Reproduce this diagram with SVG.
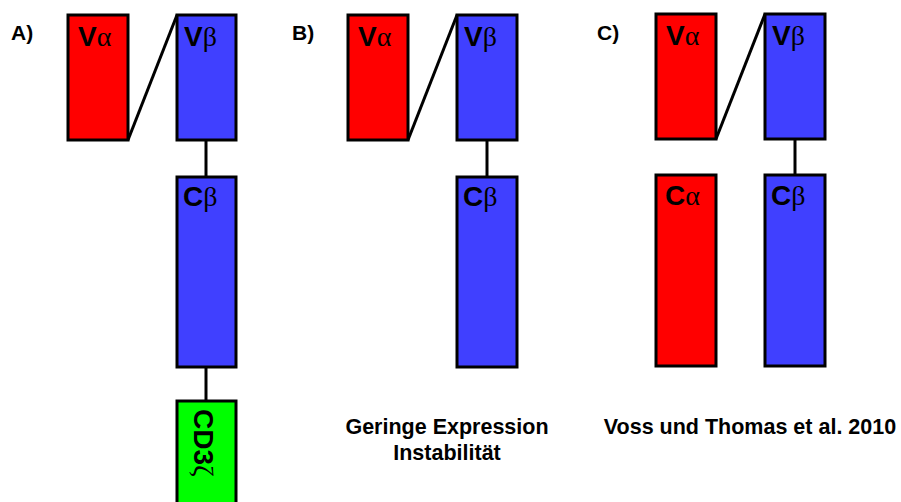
<svg xmlns="http://www.w3.org/2000/svg" width="901" height="502" viewBox="0 0 901 502">
<style>
.red{fill:#ff0000;stroke:#000;stroke-width:3}
.blue{fill:#4040ff;stroke:#000;stroke-width:3}
.green{fill:#00ff00;stroke:#000;stroke-width:3}
.lbl{font-family:"Liberation Sans",Arial,sans-serif;font-weight:bold;font-size:28px;fill:#000}
.gr{font-family:"Liberation Serif","Times New Roman",serif;font-weight:normal}
.pl{font-family:"Liberation Sans",Arial,sans-serif;font-weight:bold;font-size:21px;fill:#000}
.cap{font-family:"Liberation Sans",Arial,sans-serif;font-weight:bold;font-size:21.5px;fill:#000;text-anchor:middle}
.conn{stroke:#000;stroke-width:3;fill:none}
</style>
<rect width="901" height="502" fill="#fff"/>
<g id="panel-labels">
<text class="pl" x="11" y="40">A)</text>
<text class="pl" x="292" y="40">B)</text>
<text class="pl" x="597" y="40">C)</text>
</g>
<g id="connectors">
<line class="conn" x1="128" y1="140" x2="177" y2="15"/>
<line class="conn" x1="206" y1="140" x2="206" y2="177"/>
<line class="conn" x1="206" y1="367" x2="206" y2="401"/>
<line class="conn" x1="408" y1="140" x2="457" y2="15"/>
<line class="conn" x1="487" y1="140" x2="487" y2="177"/>
<line class="conn" x1="716" y1="139" x2="765" y2="14"/>
<line class="conn" x1="795" y1="139" x2="795" y2="175"/>
</g>
<g id="A-Va"><rect class="red" x="68" y="15" width="60" height="125"/><text class="lbl" x="78" y="46">V<tspan class="gr">α</tspan></text></g>
<g id="A-Vb"><rect class="blue" x="177" y="15" width="59" height="125"/><text class="lbl" x="184" y="46">V<tspan class="gr">β</tspan></text></g>
<g id="A-Cb"><rect class="blue" x="177" y="177" width="59" height="190"/><text class="lbl" x="183" y="206">C<tspan class="gr">β</tspan></text></g>
<g id="A-CD3z"><rect class="green" x="177" y="401" width="59" height="110"/><text class="lbl" transform="translate(194,409) rotate(90)" x="0" y="0" style="font-size:28px">CD3<tspan class="gr">ζ</tspan></text></g>
<g id="B-Va"><rect class="red" x="348" y="15" width="60" height="125"/><text class="lbl" x="358" y="46">V<tspan class="gr">α</tspan></text></g>
<g id="B-Vb"><rect class="blue" x="457" y="15" width="60" height="125"/><text class="lbl" x="464" y="46">V<tspan class="gr">β</tspan></text></g>
<g id="B-Cb"><rect class="blue" x="457" y="177" width="60" height="190"/><text class="lbl" x="463" y="206">C<tspan class="gr">β</tspan></text></g>
<g id="C-Va"><rect class="red" x="656" y="14" width="60" height="125"/><text class="lbl" x="666" y="45">V<tspan class="gr">α</tspan></text></g>
<g id="C-Vb"><rect class="blue" x="765" y="14" width="60" height="125"/><text class="lbl" x="772" y="45">V<tspan class="gr">β</tspan></text></g>
<g id="C-Ca"><rect class="red" x="656" y="175" width="60" height="191"/><text class="lbl" x="665" y="205">C<tspan class="gr">α</tspan></text></g>
<g id="C-Cb"><rect class="blue" x="765" y="175" width="60" height="191"/><text class="lbl" x="771" y="205">C<tspan class="gr">β</tspan></text></g>
<g id="captions">
<text class="cap" x="447" y="434">Geringe Expression</text>
<text class="cap" x="447" y="460">Instabilität</text>
<text class="cap" x="750" y="434">Voss und Thomas et al. 2010</text>
</g>
</svg>
